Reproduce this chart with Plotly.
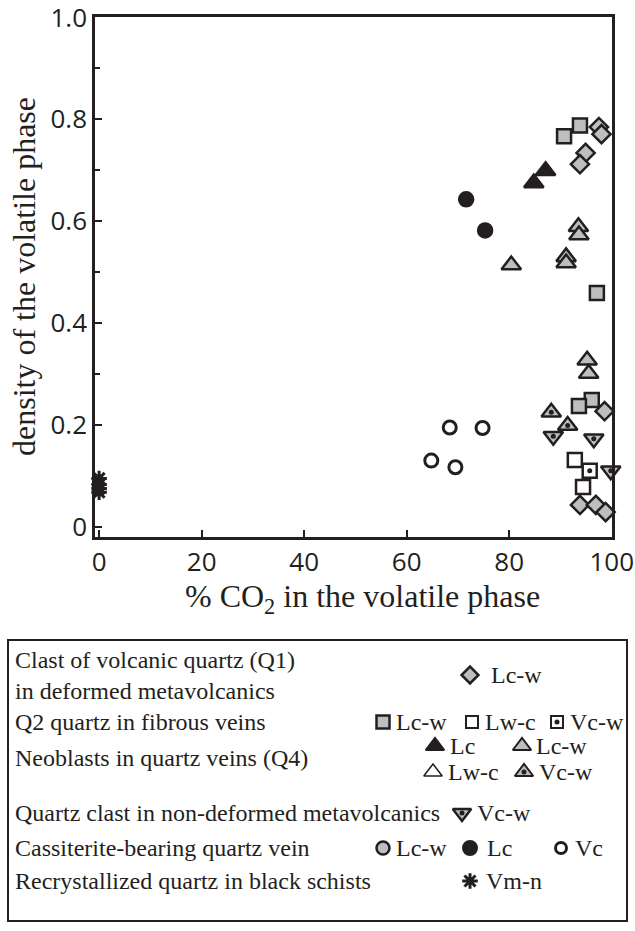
import plotly.graph_objects as go

# ---------------- data ----------------
q1_lcw_x = [97.5, 98.0, 94.9, 93.8, 98.6, 93.8, 96.9, 98.8]
q1_lcw_y = [0.785, 0.771, 0.734, 0.712, 0.227, 0.043, 0.043, 0.029]

q2_lcw_x = [90.7, 93.8, 97.1, 96.1, 93.6]
q2_lcw_y = [0.767, 0.788, 0.459, 0.249, 0.237]
q2_lwc_x = [92.8, 94.4]
q2_lwc_y = [0.131, 0.078]
q2_vcw_x = [95.7]
q2_vcw_y = [0.110]

q4_lc_x = [87.1, 84.8]
q4_lc_y = [0.699, 0.675]
q4_lcw_x = [93.5, 93.6, 91.1, 91.1, 80.4, 95.2, 95.5]
q4_lcw_y = [0.589, 0.573, 0.530, 0.518, 0.514, 0.327, 0.301]
q4_vcw_x = [88.2, 91.4]
q4_vcw_y = [0.225, 0.199]

nd_vcw_x = [88.6, 96.5, 99.8]
nd_vcw_y = [0.178, 0.173, 0.110]

cas_lc_x = [71.6, 75.3]
cas_lc_y = [0.643, 0.582]
cas_vc_x = [68.4, 74.8, 64.8, 69.5]
cas_vc_y = [0.195, 0.194, 0.130, 0.117]

bs_vmn_x = [0.0, 0.0, 0.0, 0.0]
bs_vmn_y = [0.095, 0.083, 0.075, 0.068]

x_ticks = [0, 20, 40, 60, 80, 100]
y_ticks = [0, 0.2, 0.4, 0.6, 0.8, 1.0]
y_tick_labels = ["0", "0.2", "0.4", "0.6", "0.8", "1.0"]

legend_rows = [
    "Clast of volcanic quartz (Q1)<br>in deformed metavolcanics",
    "Q2 quartz in fibrous veins",
    "Neoblasts in quartz veins (Q4)",
    "Quartz clast in non-deformed metavolcanics",
    "Cassiterite-bearing quartz vein",
    "Recrystallized quartz in black schists",
]

# ---------------- styles ----------------
INK = "#231f20"
GREY = "#bcbec0"
W, H = 635, 931
SERIF = "Liberation Serif"
LFS = 24  # legend font size

fig = go.Figure()


def add(x, y, symbol, size, fill, lw=2.5, dot=False, xa="x", ya="y"):
    fig.add_trace(go.Scatter(
        x=x, y=y, mode="markers", xaxis=xa, yaxis=ya, cliponaxis=False,
        showlegend=False, hoverinfo="skip",
        marker=dict(symbol=symbol, size=size, color=fill,
                    line=dict(color=INK, width=lw))))
    if dot:
        fig.add_trace(go.Scatter(
            x=x, y=y, mode="markers", xaxis=xa, yaxis=ya, cliponaxis=False,
            showlegend=False, hoverinfo="skip",
            marker=dict(symbol="circle", size=5, color=INK, line=dict(width=0))))


# main data
add(q4_lcw_x, q4_lcw_y, "triangle-up", 17, GREY)
add(q4_lc_x, q4_lc_y, "triangle-up", 17, INK)
add(q4_vcw_x, q4_vcw_y, "triangle-up", 17, GREY, dot=True)
add(nd_vcw_x, nd_vcw_y, "triangle-down", 17, GREY, dot=True)
add(q2_lcw_x, q2_lcw_y, "square", 14, GREY)
add(q2_lwc_x, q2_lwc_y, "square", 14, "white")
add(q2_vcw_x, q2_vcw_y, "square", 14, "white", dot=True)
add(q1_lcw_x, q1_lcw_y, "diamond", 14, GREY)
add(cas_lc_x, cas_lc_y, "circle", 14, INK)
add(cas_vc_x, cas_vc_y, "circle", 13, "white", lw=3)
add(bs_vmn_x, bs_vmn_y, "asterisk-open", 13, INK, lw=3)

# ---------------- legend (pixel coordinate overlay) ----------------
legend_marks = [
    # (px, py, symbol, size, fill, lw, dot)
    (470, 675, "diamond", 13, GREY, 2.5, False),
    (383, 722, "square", 13, GREY, 2.5, False),
    (472, 722, "square", 12, "white", 2, False),
    (557, 722, "square", 12, "white", 2, True),
    (435, 746, "triangle-up", 16, INK, 2, False),
    (522, 746, "triangle-up", 16, GREY, 2, False),
    (433, 772, "triangle-up", 16, "white", 1.5, False),
    (524, 772, "triangle-up", 16, GREY, 2, True),
    (462, 813, "triangle-down", 16, GREY, 2.5, True),
    (383, 848, "circle", 13, GREY, 2.5, False),
    (470, 848, "circle", 14, INK, 2, False),
    (561, 848, "circle", 11, "white", 3, False),
    (470, 881, "asterisk-open", 13, INK, 3, False),
]
for (px, py, sym, sz, fill, lw, dot) in legend_marks:
    add([px], [py], sym, sz, fill, lw=lw, dot=dot, xa="x2", ya="y2")

legend_labels = [
    (489, 675, "Lc-w"),
    (394, 722, "Lc-w"), (483, 722, "Lw-c"), (568, 722, "Vc-w"),
    (448, 746, "Lc"), (534, 746, "Lc-w"),
    (446, 772, "Lw-c"), (537, 772, "Vc-w"),
    (475, 813, "Vc-w"),
    (394, 848, "Lc-w"), (485, 848, "Lc"), (573, 848, "Vc"),
    (484, 881, "Vm-n"),
]
row_pos = [(13, 675), (13, 722), (13, 758), (13, 813), (13, 848), (13, 881)]

annotations = []
for (px, py), txt in zip(row_pos, legend_rows):
    annotations.append(dict(x=px, y=py, xref="x2", yref="y2", text=txt,
                            showarrow=False, xanchor="left", yanchor="middle",
                            align="left",
                            font=dict(family=SERIF, size=LFS, color=INK)))
for px, py, txt in legend_labels:
    annotations.append(dict(x=px, y=py, xref="x2", yref="y2", text=txt,
                            showarrow=False, xanchor="left", yanchor="middle",
                            font=dict(family=SERIF, size=LFS, color=INK)))

# axis titles
annotations.append(dict(x=362, y=598, xref="x2", yref="y2",
                        text="% CO<sub>2</sub> in the volatile phase",
                        showarrow=False, xanchor="center", yanchor="middle",
                        font=dict(family=SERIF, size=32, color=INK)))
annotations.append(dict(x=24, y=277, xref="x2", yref="y2",
                        text="density of the volatile phase", textangle=-90,
                        showarrow=False, xanchor="center", yanchor="middle",
                        font=dict(family=SERIF, size=32, color=INK)))

shapes = [dict(type="rect", xref="x2", yref="y2", x0=8, x1=627, y0=640, y1=921,
               line=dict(color=INK, width=2), fillcolor="rgba(0,0,0,0)")]

TICKFONT = dict(family="Open Sans", size=26, color=INK)

fig.update_layout(
    width=W, height=H, margin=dict(l=0, r=0, t=0, b=0),
    paper_bgcolor="white", plot_bgcolor="rgba(0,0,0,0)",
    showlegend=False,
    xaxis=dict(domain=[95 / W, 612 / W], range=[-0.8, 100.05], anchor="y",
               tickvals=x_ticks, ticktext=[str(v) for v in x_ticks],
               ticks="inside", ticklen=7, tickwidth=2, tickcolor=INK,
               showline=True, linecolor=INK, linewidth=2.5, mirror=True,
               showgrid=False, zeroline=False, tickfont=TICKFONT,
               ticklabeloverflow="allow", automargin=False),
    yaxis=dict(domain=[1 - 537 / H, 1 - 17 / H], range=[-0.02, 1.001], anchor="x",
               tickvals=y_ticks, ticktext=y_tick_labels,
               ticks="inside", ticklen=7, tickwidth=2, tickcolor=INK,
               minor=dict(tickvals=[0.1, 0.3, 0.5, 0.7, 0.9], ticks="inside",
                          ticklen=5, tickwidth=2, tickcolor=INK),
               showline=True, linecolor=INK, linewidth=2.5, mirror=True,
               showgrid=False, zeroline=False, tickfont=TICKFONT,
               ticklabeloverflow="allow", automargin=False),
    xaxis2=dict(domain=[0, 1], range=[0, W], anchor="y2", visible=False,
                fixedrange=True),
    yaxis2=dict(domain=[0, 1], range=[H, 0], anchor="x2", visible=False,
                fixedrange=True),
    annotations=annotations,
    shapes=shapes,
)

fig.write_html("out.html", config={"displayModeBar": False},
               post_script="document.body.style.margin='0';document.body.style.overflow='hidden';")
